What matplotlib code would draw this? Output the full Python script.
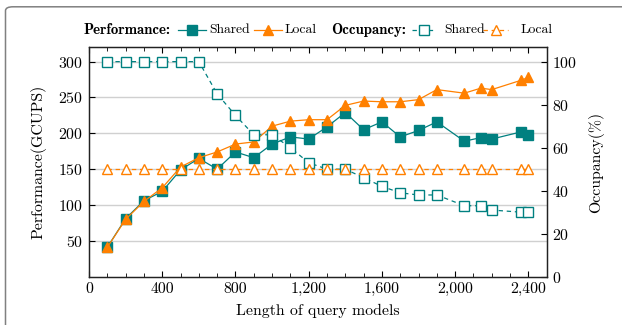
import matplotlib
matplotlib.use("Agg")
import matplotlib.pyplot as plt
from matplotlib.lines import Line2D
from matplotlib.patches import FancyBboxPatch
from matplotlib.ticker import MultipleLocator, FuncFormatter

# query model lengths
lengths = [100, 200, 300, 400, 500, 600, 700, 800, 900, 1000, 1100, 1200, 1300,
           1400, 1500, 1600, 1700, 1800, 1900, 2050, 2140, 2200, 2360, 2400]

# performance (GCUPS)
perf_shared = [41, 81, 106, 119, 149, 165, 150, 174, 166, 185, 195, 192, 209,
               229, 205, 216, 195, 204, 216, 189, 194, 192, 202, 198]
perf_local = [41, 80, 105, 124, 153, 166, 174, 185, 188, 210, 217, 219, 219,
              239, 245, 244, 244, 247, 261, 256, 263, 261, 274, 278]

# occupancy (%)
occ_shared = [100, 100, 100, 100, 100, 100, 85, 75, 66, 66, 60, 53, 50,
              50, 46, 42, 39, 38, 38, 33, 33, 31, 30, 30]
occ_local = [50] * len(lengths)

TEAL = "#008080"
ORANGE = "#ff8000"

W, H = 622, 325


def fx(px):
    return px / W


def fy(py):
    return 1 - py / H


def main():
    plt.rcParams['font.family'] = 'cmr10'
    plt.rcParams['axes.formatter.use_mathtext'] = True

    fig = plt.figure(figsize=(6.22, 3.25), dpi=100)

    # rounded frame around the figure
    frame = FancyBboxPatch((fx(5.5), fy(340)), fx(640), 340 / H - 6.8 / H,
                           boxstyle="round,pad=0,rounding_size=0.012",
                           transform=fig.transFigure, fill=False,
                           edgecolor="#808080", linewidth=1.1)
    fig.patches.append(frame)

    ax = fig.add_axes([fx(89), fy(276.7), fx(546.7 - 89), (276.7 - 47.3) / H])
    ax2 = ax.twinx()

    ax.plot(lengths, perf_shared, color=TEAL, marker='s', ms=7, lw=0.9, zorder=3)
    ax.plot(lengths, perf_local, color=ORANGE, marker='^', ms=7.5, lw=0.9, zorder=3)
    ax2.plot(lengths, occ_shared, color=TEAL, marker='s', ms=7, lw=0.9,
             mfc='white', ls=(0, (3.5, 3)))
    ax2.plot(lengths, occ_local, color=ORANGE, marker='^', ms=7, lw=0.9,
             mfc='white', ls=(0, (3.5, 3)))

    ax.set_xlim(0, 2500)
    ax.set_ylim(0, 320)
    ax2.set_ylim(0, 320 / 3)

    ax.xaxis.set_major_locator(MultipleLocator(400))
    ax.xaxis.set_minor_locator(MultipleLocator(100))
    ax.xaxis.set_major_formatter(FuncFormatter(lambda v, p: f"{v:,.0f}"))
    ax.set_yticks([50, 100, 150, 200, 250, 300])
    ax2.set_yticks([0, 20, 40, 60, 80, 100])

    ax.tick_params(axis='x', which='both', direction='in', top=True,
                   labelsize=11.4, pad=4)
    ax.tick_params(axis='x', which='major', length=4)
    ax.tick_params(axis='x', which='minor', length=3)
    ax.tick_params(axis='y', direction='in', length=4, labelsize=11.4, pad=4)
    ax2.tick_params(axis='y', direction='in', length=4, labelsize=11.4, pad=4)

    ax.grid(axis='y', color='#d0d0d0', lw=1.0)
    ax.set_axisbelow(True)
    for a in (ax, ax2):
        for s in a.spines.values():
            s.set_linewidth(0.9)
            s.set_color('#222222')

    ax.set_xlabel("Length of query models", fontsize=11.4)
    ax.set_ylabel("Performance(GCUPS)", fontsize=11.4)
    ax2.set_ylabel("Occupancy(%)", fontsize=11.4)
    ax.xaxis.set_label_coords(0.5, -0.119)
    ax.yaxis.set_label_coords(-0.092, 0.5)
    ax2.yaxis.set_label_coords(1.09, 0.5)

    # legend row at the top
    ty = fy(30)
    fs = 9.8
    fb = 10.7
    fig.text(fx(83.3), ty, "Performance:", family='cmb10', fontsize=fb, va='center')
    fig.text(fx(209), ty, "Shared", fontsize=fs, va='center')
    fig.text(fx(285), ty, "Local", fontsize=fs, va='center')
    fig.text(fx(331), ty, "Occupancy:", family='cmb10', fontsize=fb, va='center')
    fig.text(fx(444.3), ty, "Shared", fontsize=fs, va='center')
    fig.text(fx(520.7), ty, "Local", fontsize=fs, va='center')

    handles = [
        (177.7, 205.7, TEAL, 's', TEAL, '-'),
        (254, 281.7, ORANGE, '^', ORANGE, '-'),
        (412.3, 435.5, TEAL, 's', 'white', (0, (3.5, 3))),
        (483.3, 508, ORANGE, '^', 'white', (0, (3.5, 3))),
    ]
    for x0, x1, c, m, fc, ls in handles:
        fig.add_artist(Line2D([fx(x0), fx(x1)], [ty, ty], color=c, lw=0.9, ls=ls,
                              transform=fig.transFigure))
        fig.add_artist(Line2D([fx((x0 + x1) / 2)], [ty], color=c, marker=m, ms=7,
                              mfc=fc, transform=fig.transFigure))

    fig.savefig("out.png", dpi=100)


if __name__ == '__main__':
    main()
